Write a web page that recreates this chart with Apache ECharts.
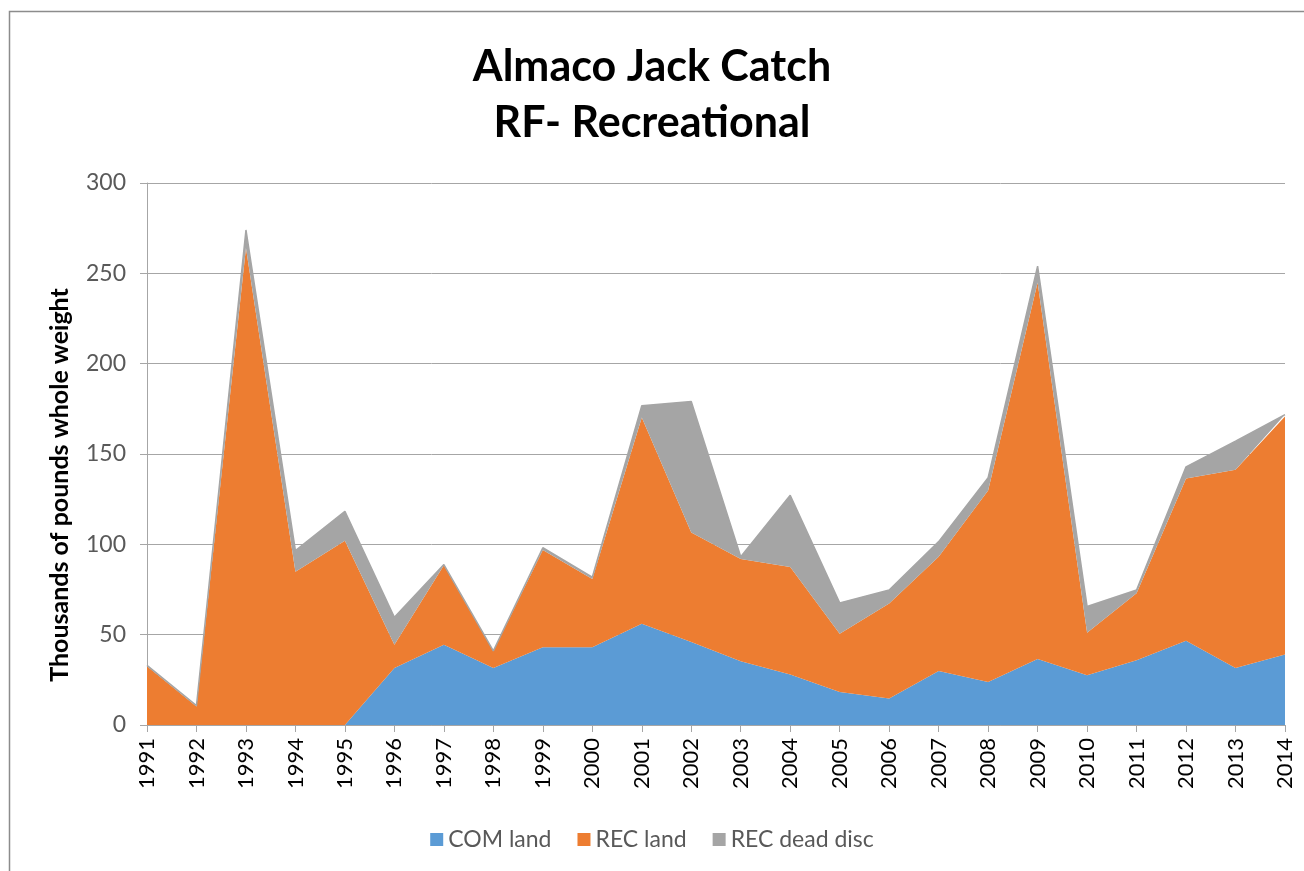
<!DOCTYPE html>
<html>
<head>
<meta charset="utf-8">
<script src="https://cdn.jsdelivr.net/npm/echarts@6/dist/echarts.min.js"></script>
<style>
  html, body { margin: 0; padding: 0; background: #fff; }
  #chart { width: 1304px; height: 871px; }
</style>
</head>
<body>
<div id="chart"></div>
<script>
const COLORS = {
    com: '#5B9BD5',
    rec: '#ED7D31',
    disc: '#A5A5A5',
    grid: '#A6A6A6',
    text: '#595959',
};

const years = ['1991', '1992', '1993', '1994', '1995', '1996', '1997', '1998', '1999', '2000', '2001', '2002',
    '2003', '2004', '2005', '2006', '2007', '2008', '2009', '2010', '2011', '2012', '2013', '2014'];

// thousands of pounds
const comLand = [0, 0, 0, 0, 0, 31.5, 44.4, 31.5, 43, 43, 56.1, 46,
    35.3, 27.9, 18.2, 14.7, 29.9, 23.8, 36.5, 27.5, 35.9, 46.6, 31.5, 39];
const recLand = [32.5, 10.3, 264, 84.8, 102, 12.9, 44, 9.5, 53.9, 37.8, 114.1, 60.6,
    56.6, 59.5, 32.3, 52.5, 63.2, 106, 208.4, 23.6, 37, 89.9, 109.8, 131.8];
const recDeadDisc = [0.5, 0.5, 10, 11.7, 16.3, 15.2, 0.4, 0, 1.2, 1, 6.5, 72.5,
    1.2, 39.8, 17.1, 7.5, 8.4, 7.1, 9.1, 14.5, 1.8, 6.4, 15.8, 1];

const FONT = 'Lato, "Open Sans", sans-serif';

const chart = echarts.init(document.getElementById('chart'), null, { renderer: 'canvas' });

function areaSeries(name, data, color, edge) {
    return {
        name,
        type: 'line',
        stack: 'total',
        data,
        symbol: 'none',
        lineStyle: edge ? { width: 1.5, color } : { width: 0 },
        itemStyle: { color },
        areaStyle: { color, opacity: 1 },
    };
}

chart.setOption({
    backgroundColor: '#fff',
    animation: false,
    textStyle: { fontFamily: FONT },
    graphic: [
        {
            type: 'rect',
            shape: { x: 9.5, y: 11.5, width: 1400, height: 1000 },
            style: { fill: 'none', stroke: '#8c8c8c', lineWidth: 1.5 },
            silent: true,
        },
        {
            // y axis title, placed a little below the plot's middle like the original
            type: 'text',
            x: 60,
            y: 485,
            rotation: Math.PI / 2,
            style: {
                text: 'Thousands of pounds whole weight',
                fontSize: 25,
                fontWeight: 'bold',
                fontFamily: FONT,
                fill: '#000',
                align: 'center',
                verticalAlign: 'middle',
            },
            silent: true,
        },
    ],
    title: {
        text: 'Almaco Jack Catch\nRF- Recreational',
        left: 'center',
        top: 34,
        textStyle: { fontSize: 43, fontWeight: 'bold', color: '#000', lineHeight: 56, fontFamily: FONT },
    },
    legend: {
        top: 823,
        left: 'center',
        itemWidth: 13,
        itemHeight: 13,
        itemGap: 26,
        icon: 'rect',
        textStyle: { fontSize: 23, color: COLORS.text, fontFamily: FONT },
        data: ['COM land', 'REC land', 'REC dead disc'],
    },
    grid: { left: 147, right: 19, top: 183, bottom: 146, containLabel: false },
    xAxis: {
        type: 'category',
        data: years,
        boundaryGap: false,
        axisLine: { lineStyle: { color: COLORS.grid } },
        axisTick: { show: true, length: 7, lineStyle: { color: COLORS.grid } },
        axisLabel: { rotate: 90, fontSize: 22, color: '#000', margin: 13, interval: 0 },
        splitLine: { show: false },
    },
    yAxis: {
        type: 'value',
        min: 0,
        max: 300,
        interval: 50,
        axisLine: { show: true, lineStyle: { color: COLORS.grid } },
        axisTick: { show: true, length: 7, lineStyle: { color: COLORS.grid } },
        axisLabel: { fontSize: 23, color: COLORS.text, margin: 21 },
        splitLine: { lineStyle: { color: COLORS.grid, width: 1 } },
    },
    series: [
        areaSeries('COM land', comLand, COLORS.com, false),
        areaSeries('REC land', recLand, COLORS.rec, false),
        areaSeries('REC dead disc', recDeadDisc, COLORS.disc, true),
    ],
});
</script>
</body>
</html>
